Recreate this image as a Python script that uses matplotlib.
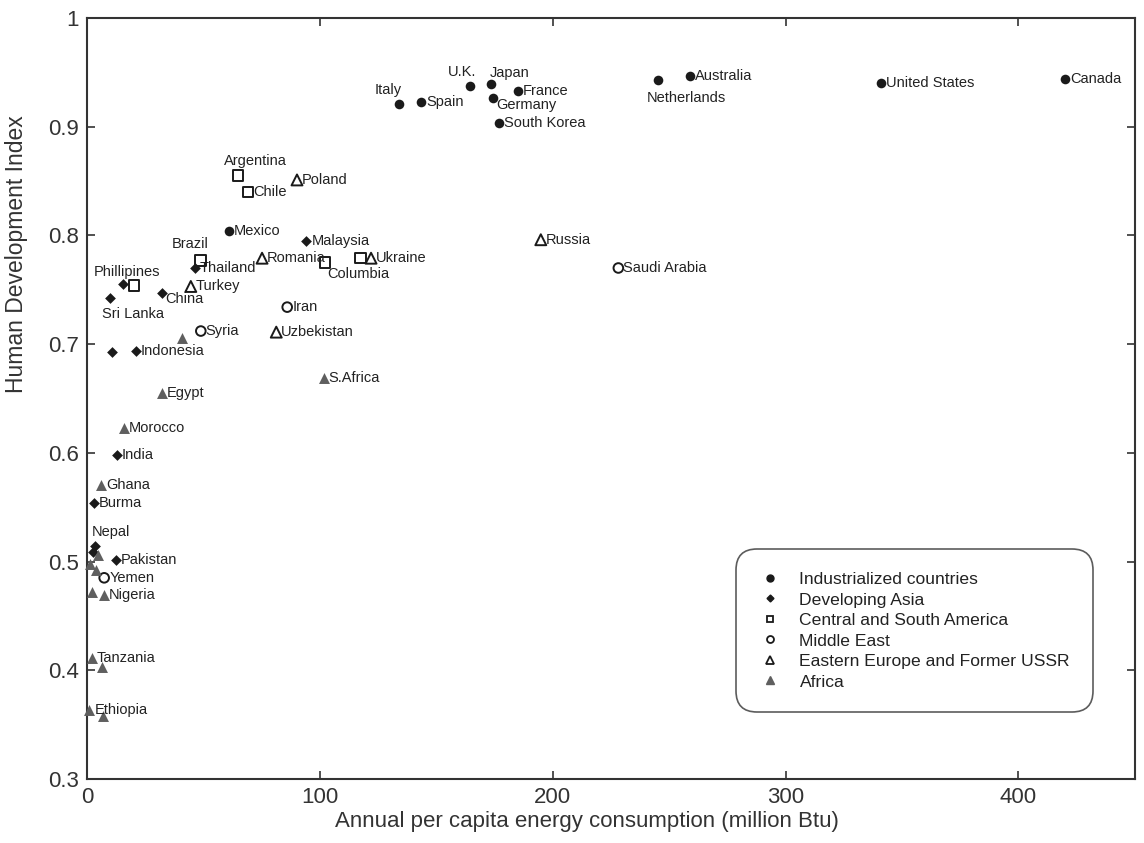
"""HDI vs annual per capita energy consumption, grouped by region."""

import matplotlib

matplotlib.use("Agg")
import matplotlib.pyplot as plt
from matplotlib.lines import Line2D
from matplotlib.ticker import FuncFormatter

plt.rcParams["font.family"] = ["Liberation Sans", "DejaVu Sans"]

# --- data (million Btu per capita, HDI) ---
ind_names = ["Canada", "United States", "Australia", "Netherlands", "France", "Japan",
             "Germany", "South Korea", "U.K.", "Spain", "Italy", "Mexico"]
ind_x = [420, 340.8, 258.8, 245.2, 185.2, 173.6, 174.2, 176.8, 164.6, 143.5, 133.8, 61.0]
ind_y = [0.944, 0.940, 0.947, 0.943, 0.933, 0.939, 0.926, 0.903, 0.937, 0.923, 0.921, 0.804]

asia_names = ["Malaysia", "Thailand", "Phillipines", "Sri Lanka", "China", "", "Indonesia",
              "India", "Burma", "Nepal", "", "Pakistan"]
asia_x = [94.2, 46.2, 15.6, 9.9, 32.2, 10.9, 21.0, 12.7, 3.1, 3.6, 2.6, 12.4]
asia_y = [0.795, 0.770, 0.755, 0.742, 0.747, 0.693, 0.694, 0.598, 0.554, 0.514, 0.509, 0.501]

csa_names = ["Argentina", "Chile", "Brazil", "Columbia", "", ""]
csa_x = [65.0, 69.2, 48.7, 102.2, 117.5, 20.3]
csa_y = [0.855, 0.840, 0.777, 0.775, 0.779, 0.754]

me_names = ["Saudi Arabia", "Iran", "Syria", "Yemen"]
me_x = [228.2, 86.0, 48.9, 7.4]
me_y = [0.770, 0.734, 0.712, 0.485]

ee_names = ["Poland", "Russia", "Romania", "Ukraine", "Turkey", "Uzbekistan"]
ee_x = [90.2, 194.9, 75.2, 122.0, 44.6, 81.3]
ee_y = [0.851, 0.796, 0.779, 0.779, 0.753, 0.711]

afr_names = ["", "Egypt", "Morocco", "S.Africa", "Ghana", "", "", "", "", "Nigeria",
             "Tanzania", "", "Ethiopia", ""]
afr_x = [40.7, 32.2, 16.0, 101.7, 6.0, 4.7, 1.2, 4.0, 2.1, 7.3, 2.0, 6.4, 1.0, 7.0]
afr_y = [0.706, 0.655, 0.623, 0.669, 0.570, 0.506, 0.498, 0.492, 0.472, 0.469,
         0.411, 0.403, 0.363, 0.358]

# label offsets in pixels (dx, dy, ha); default is just right of the marker
label_offsets = {
    "Italy": (-10, 14, "center"),
    "U.K.": (-8, 14, "center"),
    "Japan": (-1, 11, "left"),
    "Germany": (4, -7, "left"),
    "Netherlands": (-11, -18, "left"),
    "Phillipines": (4, 12, "center"),
    "Sri Lanka": (-8, -16, "left"),
    "China": (3, -6, "left"),
    "Nepal": (-4, 14, "left"),
    "Argentina": (-14, 15, "left"),
    "Brazil": (-10, 16, "center"),
    "Columbia": (2, -11, "left"),
}

INK = "#1a1a1a"
GRAY = "#5f5f5f"
TXT = "#222222"

fig = plt.figure(figsize=(11.44, 8.43), dpi=100)
ax = fig.add_axes([0.076, 0.076, 0.916, 0.9027])

groups = [
    ("Industrialized countries", ind_names, ind_x, ind_y,
     dict(marker="o", s=48, c=INK, linewidths=0)),
    ("Developing Asia", asia_names, asia_x, asia_y,
     dict(marker="D", s=30, c=INK, linewidths=0)),
    ("Central and South America", csa_names, csa_x, csa_y,
     dict(marker="s", s=55, facecolors="none", edgecolors=INK, linewidths=1.4)),
    ("Middle East", me_names, me_x, me_y,
     dict(marker="o", s=48, facecolors="none", edgecolors=INK, linewidths=1.4)),
    ("Eastern Europe and Former USSR", ee_names, ee_x, ee_y,
     dict(marker="^", s=62, facecolors="none", edgecolors=INK, linewidths=1.4)),
    ("Africa", afr_names, afr_x, afr_y,
     dict(marker="^", s=62, c=GRAY, linewidths=0)),
]

for label, names, xs, ys, style in groups:
    ax.scatter(xs, ys, zorder=3, clip_on=False, **style)
    for name, x, y in zip(names, xs, ys):
        if not name:
            continue
        dx, dy, ha = label_offsets.get(name, (5, 0, "left"))
        ax.annotate(name, (x, y), xytext=(dx, dy), textcoords="offset pixels",
                    ha=ha, va="center", fontsize=10.5, color=TXT)

ax.set_xlim(0, 450)
ax.set_ylim(0.3, 1.0)
ax.set_xticks([0, 100, 200, 300, 400])
ax.set_yticks([0.3, 0.4, 0.5, 0.6, 0.7, 0.8, 0.9, 1.0])
ax.yaxis.set_major_formatter(FuncFormatter(lambda v, _: f"{v:g}"))
ax.tick_params(direction="in", length=6, width=1.2, top=True, right=True,
               labelsize=16, labelcolor="#333333", color="#333333", pad=6)
for sp in ax.spines.values():
    sp.set_linewidth(1.5)
    sp.set_color("#333333")

ax.set_xlabel("Annual per capita energy consumption (million Btu)", fontsize=16,
              color="#333333")
ax.set_ylabel("Human Development Index", fontsize=16.5, color="#333333")
ax.xaxis.set_label_coords(0.477, -0.042, transform=ax.transAxes)
ax.yaxis.set_label_coords(-0.056, 0.69, transform=ax.transAxes)

# legend with small markers
handles = [
    Line2D([], [], ls="none", marker="o", ms=5, mfc=INK, mec=INK),
    Line2D([], [], ls="none", marker="D", ms=3.5, mfc=INK, mec=INK),
    Line2D([], [], ls="none", marker="s", ms=5, mfc="none", mec=INK, mew=1.3),
    Line2D([], [], ls="none", marker="o", ms=5, mfc="none", mec=INK, mew=1.3),
    Line2D([], [], ls="none", marker="^", ms=5.5, mfc="none", mec=INK, mew=1.3),
    Line2D([], [], ls="none", marker="^", ms=5.5, mfc=GRAY, mec=GRAY),
]
leg = ax.legend(handles, [g[0] for g in groups], loc="upper left",
                bbox_to_anchor=(0.619, 0.302), fontsize=12.6, frameon=True,
                fancybox=True, edgecolor="#333333", borderpad=1.3,
                labelspacing=0.3, handlelength=1.3, handletextpad=1.05,
                borderaxespad=0)
leg.get_frame().set_linewidth(1.2)
leg.get_frame().set_boxstyle("round,pad=0,rounding_size=1.2")
for t in leg.get_texts():
    t.set_color(TXT)

fig.savefig("out.png", dpi=100)
